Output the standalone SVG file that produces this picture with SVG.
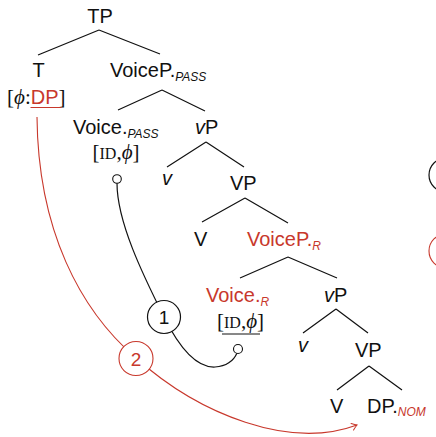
<svg xmlns="http://www.w3.org/2000/svg" width="436" height="437" viewBox="0 0 436 437">
<style>
text{font-family:"Liberation Sans","DejaVu Sans",sans-serif;font-size:20px;fill:#111}
.red{fill:#c8382c}
.sub{font-size:12px;font-style:italic}
.it{font-style:italic}
.serif{font-family:"Liberation Serif","DejaVu Serif",serif;font-size:21px}
.sc{font-size:16px}
.edge{stroke:#111;stroke-width:1.2;fill:none}
.blk{stroke:#111;stroke-width:1.2;fill:none}
.rd{stroke:#c8382c;stroke-width:1.1;fill:none}
.dot{fill:#fff;stroke:#111;stroke-width:1.1}
.num{font-size:19px;text-anchor:middle}
</style>
<defs>
<marker id="to" markerUnits="userSpaceOnUse" markerWidth="12" markerHeight="12" refX="0" refY="0" viewBox="-6 -6 12 12" orient="auto">
<path d="M-5,-3.5 Q-1.5,-0.8 0,0 Q-1.5,0.8 -5,3.5" fill="none" stroke="#c8382c" stroke-width="1.1" stroke-linecap="round"/>
</marker>
</defs>
<rect width="436" height="437" fill="#fff"/>

<g id="connectors">
<path class="edge" d="M99,30 L38,55 M99,30 L160,54"/>
<path class="edge" d="M162,90 L118,110 M162,90 L205,111"/>
<path class="edge" d="M206,142 L167,167 M206,142 L244,167"/>
<path class="edge" d="M245,198 L202,222 M245,198 L288,223"/>
<path class="edge" d="M288,257 L240,278 M288,257 L337,278"/>
<path class="edge" d="M336,309 L303,333 M336,309 L368,333"/>
<path class="edge" d="M369,366 L337,390 M369,366 L402,390"/>
<path id="curve1" class="blk" d="M117,183 C117,222 143,275 164,317 C178,345 195,368 215,367 C228,366 234,360 237,353"/>
<path id="curve2" class="rd" d="M37,117 C38,230 80,310 136,358 C200,415 290,450 357,425" marker-end="url(#to)"/>
</g>

<g id="TP"><text x="100" y="23" text-anchor="middle">TP</text></g>
<g id="T">
<text x="38.5" y="77" text-anchor="middle">T</text>
<text x="7" y="104" class="serif">[<tspan class="it">ϕ</tspan>:<tspan class="red" style="font-family:'Liberation Sans',sans-serif;font-size:20px">DP</tspan>]</text>
<line x1="30.5" y1="107.5" x2="61.5" y2="107.5" stroke="#c8382c" stroke-width="1"/>
</g>
<g id="VoicePpass"><text x="110" y="77">VoiceP.<tspan class="sub" dy="4">PASS</tspan></text></g>
<g id="Voicepass">
<text x="73" y="134">Voice.<tspan class="sub" dy="4">PASS</tspan></text>
<text x="116" y="159" class="serif" text-anchor="middle">[<tspan class="sc">ID</tspan>,<tspan class="it">ϕ</tspan>]</text>
<circle class="dot" cx="117" cy="179" r="4.3"/>
</g>
<g id="vP1"><text x="195" y="134"><tspan class="it">v</tspan>P</text></g>
<g id="v1"><text x="162" y="185" class="it">v</text></g>
<g id="VP1"><text x="230" y="190">VP</text></g>
<g id="V1"><text x="194" y="246">V</text></g>
<g id="VoicePR"><text x="247" y="246" class="red">VoiceP.<tspan class="sub" dy="4">R</tspan></text></g>
<g id="VoiceR">
<text x="206" y="302" class="red">Voice.<tspan class="sub" dy="4">R</tspan></text>
<text x="240.5" y="328" class="serif" text-anchor="middle">[<tspan class="sc">ID</tspan>,<tspan class="it">ϕ</tspan>]</text>
<line x1="222" y1="334" x2="260" y2="334" stroke="#111" stroke-width="1"/>
<circle class="dot" cx="238" cy="349" r="4.5"/>
</g>
<g id="vP2"><text x="324" y="302"><tspan class="it">v</tspan>P</text></g>
<g id="v2"><text x="298" y="352" class="it">v</text></g>
<g id="VP2"><text x="355" y="357">VP</text></g>
<g id="V2"><text x="330" y="413">V</text></g>
<g id="DPnom"><text x="367" y="413">DP.<tspan class="sub red" dy="3">NOM</tspan></text></g>

<g id="step1">
<circle cx="164" cy="317" r="16.5" fill="#fff" stroke="#111" stroke-width="1.2"/>
<text x="164" y="324" class="num">1</text>
</g>
<g id="step2">
<circle cx="136" cy="358.5" r="17" fill="#fff" stroke="#c8382c" stroke-width="1.1"/>
<text x="136" y="365.5" class="num red">2</text>
</g>
<g id="legend1"><circle cx="446" cy="175" r="17" fill="#fff" stroke="#111" stroke-width="1.2"/></g>
<g id="legend2"><circle cx="446" cy="251" r="17" fill="#fff" stroke="#c8382c" stroke-width="1.1"/></g>
</svg>
